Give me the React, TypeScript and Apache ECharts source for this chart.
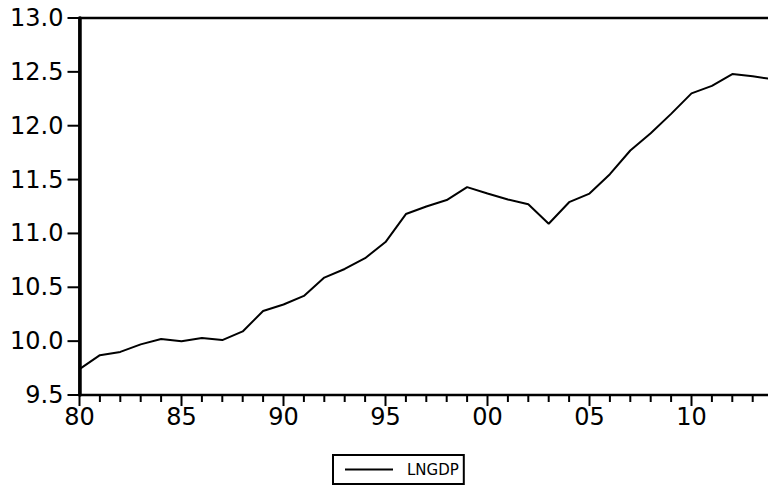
import React, { useEffect, useRef } from "react";
import * as echarts from "echarts";

const years = [1980, 1981, 1982, 1983, 1984, 1985, 1986, 1987, 1988, 1989, 1990, 1991, 1992, 1993, 1994, 1995, 1996, 1997, 1998, 1999, 2000, 2001, 2002, 2003, 2004, 2005, 2006, 2007, 2008, 2009, 2010, 2011, 2012, 2013, 2014];
const lngdp = [9.74, 9.87, 9.9, 9.97, 10.02, 10.0, 10.03, 10.01, 10.09, 10.28, 10.34, 10.42, 10.59, 10.67, 10.77, 10.92, 11.18, 11.25, 11.31, 11.43, 11.37, 11.315, 11.27, 11.09, 11.29, 11.37, 11.55, 11.77, 11.93, 12.11, 12.3, 12.37, 12.48, 12.46, 12.43];
const seriesName = "LNGDP";
const yTicks = [9.5, 10.0, 10.5, 11.0, 11.5, 12.0, 12.5, 13.0];
const xMajorTicks = [1980, 1985, 1990, 1995, 2000, 2005, 2010];

export default function App() {
  const ref = useRef<HTMLDivElement>(null);
  useEffect(() => {
    if (!ref.current) return;
    const chart = echarts.init(ref.current, null, { renderer: "svg" });
    const font = "DejaVu Sans";
    const black = "#000";
    chart.setOption({
      animation: false,
      grid: {
        left: 79.5,
        top: 18,
        width: 693.6,
        height: 377,
        show: true,
        borderColor: black,
        borderWidth: 2.5,
        backgroundColor: "transparent",
        outerBoundsMode: "none",
      },
      legend: {
        show: true,
        data: [{ name: seriesName, icon: "rect" }],
        left: 333,
        top: 455,
        orient: "horizontal",
        borderColor: black,
        borderWidth: 2,
        padding: [7, 5, 7, 12],
        itemWidth: 48,
        itemHeight: 2,
        itemStyle: { color: black },
        textStyle: { fontFamily: font, fontSize: 15, color: black, padding: [0, 0, 0, 9] },
      },
      xAxis: {
        type: "value",
        min: 1980,
        max: 2014,
        interval: 5,
        position: "bottom",
        axisLine: { show: true, lineStyle: { color: black, width: 2 } },
        axisTick: { show: false },
        axisLabel: {
          show: true,
          margin: 10,
          color: black,
          fontFamily: font,
          fontSize: 24,
          showMaxLabel: false,
          formatter: (v: number) => String(v % 100).padStart(2, "0"),
        },
        splitLine: { show: false },
      },
      yAxis: {
        type: "value",
        min: 9.5,
        max: 13.0,
        interval: 0.5,
        position: "left",
        axisLine: { show: true, lineStyle: { color: black, width: 3.5 } },
        axisTick: { show: false },
        axisLabel: {
          margin: 16,
          color: black,
          fontFamily: font,
          fontSize: 24,
          formatter: (v: number) => v.toFixed(1),
        },
        splitLine: { show: false },
      },
      series: [
        {
          name: seriesName,
          type: "line",
          symbol: "none",
          data: years.map((y, i) => [y, lngdp[i]]),
          lineStyle: { color: black, width: 2 },
          itemStyle: { color: black },
        },
      ],
    });

    const px = (v: number) => Number(chart.convertToPixel({ xAxisIndex: 0 }, v));
    const py = (v: number) => Number(chart.convertToPixel({ yAxisIndex: 0 }, v));
    const axisX = px(years[0]);
    const axisY = py(yTicks[0]);
    const elements: any[] = [];
    yTicks.forEach((v) => {
      const y = py(v);
      elements.push({
        type: "rect", z: 1000, zlevel: 5, silent: true,
        shape: { x: axisX - 12, y: y - 1, width: 12, height: 2 },
        style: { fill: black },
      });
    });
    years.forEach((yr) => {
      const x = px(yr);
      const major = xMajorTicks.indexOf(yr) >= 0;
      elements.push({
        type: "rect", z: 1000, zlevel: 5, silent: true,
        shape: { x: x - 1, y: axisY, width: 2, height: major ? 11 : 7 },
        style: { fill: black },
      });
    });
    chart.setOption({ graphic: { elements } });

    return () => chart.dispose();
  }, []);
  return (
    <div
      ref={ref}
      style={{ position: "fixed", left: 0, top: 0, width: 768, height: 487, background: "#fff" }}
    />
  );
}
